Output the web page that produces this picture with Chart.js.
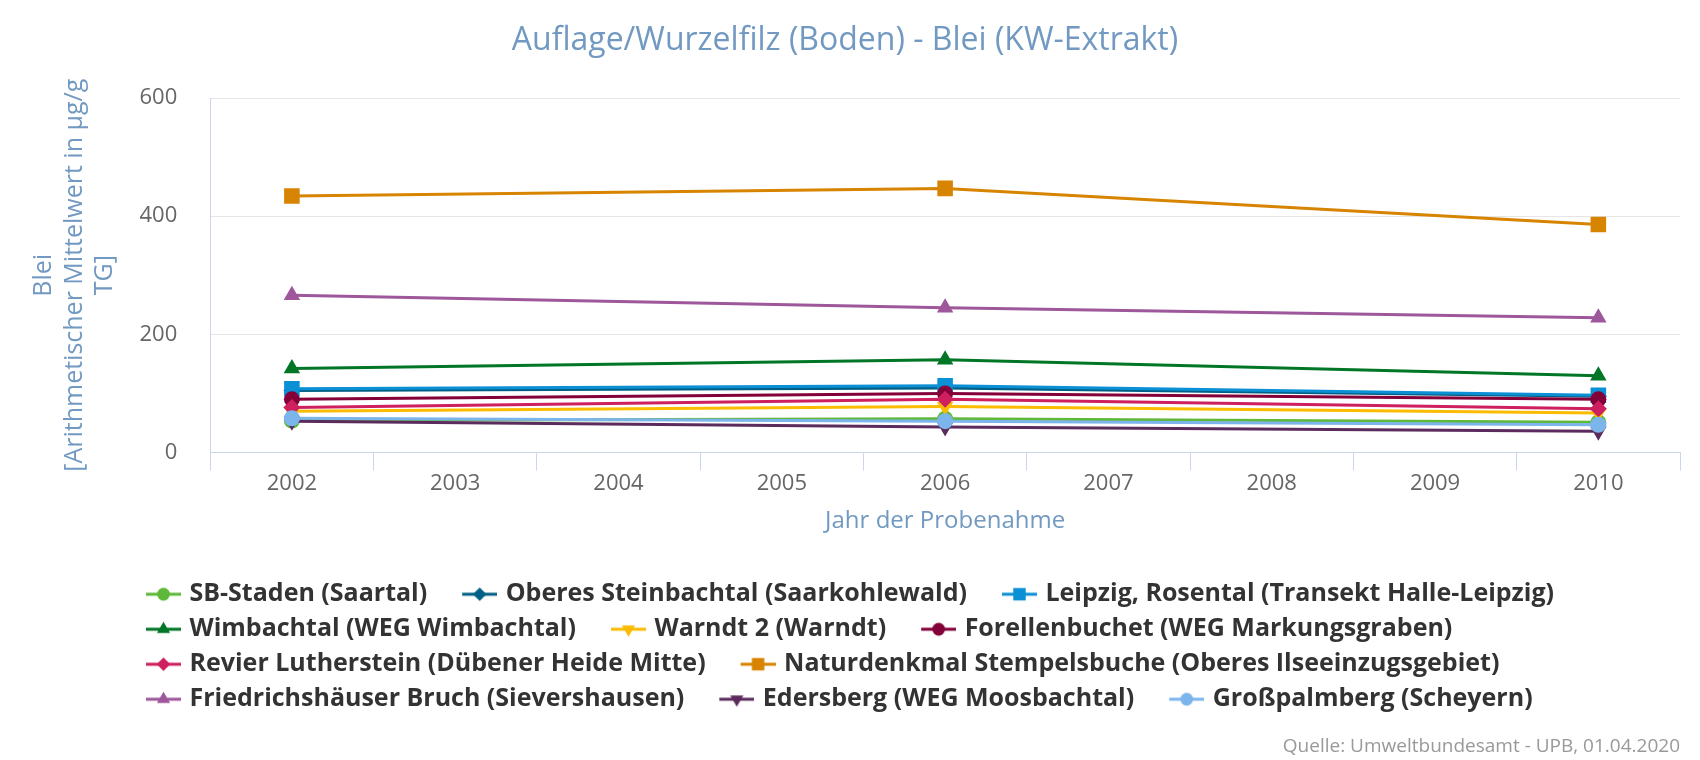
<!DOCTYPE html>
<html>
<head>
<meta charset="utf-8">
<title>Auflage/Wurzelfilz (Boden) - Blei</title>
<script src="https://cdn.jsdelivr.net/npm/chart.js@4.4.1/dist/chart.umd.min.js"></script>
<style>
  html, body { margin: 0; padding: 0; background: #fff; }
  #wrap { width: 1700px; height: 760px; }
</style>
</head>
<body>
<div id="wrap"><canvas id="bleiChart"></canvas></div>
<script>
// x axis categories, and the years that actually have a measurement
const years = ['2002', '2003', '2004', '2005', '2006', '2007', '2008', '2009', '2010'];
const sampleYears = ['2002', '2006', '2010'];

const sites = [
    'SB-Staden (Saartal)',
    'Oberes Steinbachtal (Saarkohlewald)',
    'Leipzig, Rosental (Transekt Halle-Leipzig)',
    'Wimbachtal (WEG Wimbachtal)',
    'Warndt 2 (Warndt)',
    'Forellenbuchet (WEG Markungsgraben)',
    'Revier Lutherstein (Dübener Heide Mitte)',
    'Naturdenkmal Stempelsbuche (Oberes Ilseeinzugsgebiet)',
    'Friedrichshäuser Bruch (Sievershausen)',
    'Edersberg (WEG Moosbachtal)',
    'Großpalmberg (Scheyern)'
];

// Blei in µg/g TG for 2002, 2006, 2010
const sbStaden = [54, 57, 51];
const oberesSteinbachtal = [105, 109, 95];
const leipzigRosental = [108, 113, 97];
const wimbachtal = [142, 157, 130];
const warndt2 = [70, 78, 67];
const forellenbuchet = [90, 100, 90];
const revierLutherstein = [76, 90, 74];
const stempelsbuche = [434, 447, 386];
const friedrichshaeuserBruch = [266, 245, 228];
const edersberg = [53, 43, 36];
const grosspalmberg = [58, 53, 47];

const yTicks = [0, 200, 400, 600];

const seriesValues = [sbStaden, oberesSteinbachtal, leipzigRosental, wimbachtal, warndt2,
    forellenbuchet, revierLutherstein, stempelsbuche, friedrichshaeuserBruch, edersberg, grosspalmberg];

const colors = ['#5eb83a', '#005f85', '#0b90d5', '#007626', '#fabb00', '#830039',
    '#ce1f5e', '#d78400', '#9d579a', '#5b2b5e', '#7cb5ec'];

// highcharts-like symbol cycle: circle, diamond, square, triangle, triangle-down
const symbols = [
    { style: 'circle', rot: 0, r: 8 },
    { style: 'rectRot', rot: 0, r: 8.5 },
    { style: 'rect', rot: 0, r: 11 },
    { style: 'triangle', rot: 0, r: 9.5 },
    { style: 'triangle', rot: 180, r: 9.5 }
];

const legendGap = 25;   // blank space in front of each legend symbol
const legendLine = 35;  // length of the line in the legend symbol
const overhang = 4;     // symbol picture reaches a bit past its box, closer to the text

function toYearRow(values) {
    return years.map(y => {
        const i = sampleYears.indexOf(y);
        return i < 0 ? null : values[i];
    });
}

// small picture for the legend: a line with the marker in the middle
function legendSymbol(color, sym) {
    const boxW = legendGap + legendLine - overhang;
    const c = document.createElement('canvas');
    c.width = boxW + 2 * overhang;
    c.height = 20;
    const g = c.getContext('2d');
    const x0 = legendGap + overhang;
    g.strokeStyle = color;
    g.lineWidth = 3;
    g.beginPath();
    g.moveTo(x0, 10);
    g.lineTo(x0 + legendLine, 10);
    g.stroke();
    g.fillStyle = color;
    Chart.helpers.drawPoint(g, { pointStyle: sym.style, rotation: sym.rot, radius: sym.r * 0.8, borderWidth: 0 },
        x0 + legendLine / 2, 10);
    return c;
}

const datasets = sites.map((name, i) => {
    const sym = symbols[i % symbols.length];
    return {
        label: name,
        data: toYearRow(seriesValues[i]),
        borderColor: colors[i],
        backgroundColor: colors[i],
        borderWidth: 3,
        pointStyle: sym.style,
        pointRotation: sym.rot,
        pointRadius: sym.r,
        pointHoverRadius: sym.r,
        pointBorderWidth: 0,
        spanGaps: true,
        tension: 0,
        order: -i   // later series on top, like the original
    };
});

// legend rows are left aligned inside a centred block
const centerLegend = {
    id: 'centerLegend',
    beforeDraw(chart) {
        const lg = chart.legend;
        if (!lg || !lg.lineWidths) return;
        const pad = lg.options.labels.padding;
        const widest = Math.max(...lg.lineWidths);
        lg.left = (chart.width - widest - pad - legendGap) / 2;
    }
};

const fontFamily = '"Open Sans", "Noto Sans", sans-serif';
const blue = '#7199c1';

const ctx = document.getElementById('bleiChart').getContext('2d');
const bleiChart = new Chart(ctx, {
    type: 'line',
    data: { labels: years, datasets: datasets },
    plugins: [centerLegend],
    options: {
        responsive: true,
        maintainAspectRatio: false,
        animation: false,
        layout: { padding: { left: 10, right: 20, top: 0, bottom: 0 } },
        plugins: {
            title: {
                display: true,
                text: 'Auflage/Wurzelfilz (Boden) - Blei (KW-Extrakt)',
                color: blue,
                font: { family: fontFamily, size: 32, weight: 'normal' },
                padding: { top: 22, bottom: 37.6 }
            },
            subtitle: {
                display: true,
                text: 'Quelle: Umweltbundesamt - UPB, 01.04.2020',
                position: 'bottom',
                align: 'end',
                color: '#999999',
                font: { family: fontFamily, size: 19 },
                padding: { top: 13.5, bottom: 2 }
            },
            legend: {
                position: 'bottom',
                align: 'start',
                labels: {
                    usePointStyle: true,
                    pointStyleWidth: legendGap + legendLine - overhang,
                    padding: 10,
                    color: '#333333',
                    font: { family: fontFamily, size: 25, weight: 'bold' },
                    sort: (a, b) => a.datasetIndex - b.datasetIndex,
                    generateLabels(chart) {
                        const items = Chart.defaults.plugins.legend.labels.generateLabels(chart);
                        items.forEach(it => {
                            const k = it.datasetIndex;
                            it.pointStyle = legendSymbol(colors[k], symbols[k % symbols.length]);
                            it.rotation = 0;
                        });
                        return items;
                    }
                }
            },
            tooltip: { enabled: false }
        },
        scales: {
            x: {
                offset: true,
                grid: {
                    display: true,
                    offset: true,
                    drawOnChartArea: false,
                    drawTicks: true,
                    tickLength: 18,
                    color: '#ccd6eb'
                },
                border: { color: '#ccd6eb', width: 1 },
                ticks: {
                    color: '#666666',
                    padding: 0,
                    font: { family: fontFamily, size: 22 }
                },
                title: {
                    display: true,
                    text: 'Jahr der Probenahme',
                    color: blue,
                    font: { family: fontFamily, size: 24 },
                    padding: { top: 10, bottom: 36 }
                }
            },
            y: {
                min: yTicks[0],
                max: yTicks[yTicks.length - 1],
                afterBuildTicks(scale) {
                    scale.ticks = yTicks.map(v => ({ value: v }));
                },
                grid: { color: '#e6e6e6', drawTicks: false },
                border: { color: '#ccd6eb', width: 1 },
                ticks: {
                    color: '#666666',
                    padding: 33,
                    font: { family: fontFamily, size: 22 }
                },
                title: {
                    display: true,
                    text: ['Blei', '[Arithmetischer Mittelwert in µg/g', 'TG]'],
                    color: blue,
                    font: { family: fontFamily, size: 25, lineHeight: 1.22 },
                    padding: { top: 19, bottom: -14 }
                }
            }
        }
    }
});
</script>
</body>
</html>
